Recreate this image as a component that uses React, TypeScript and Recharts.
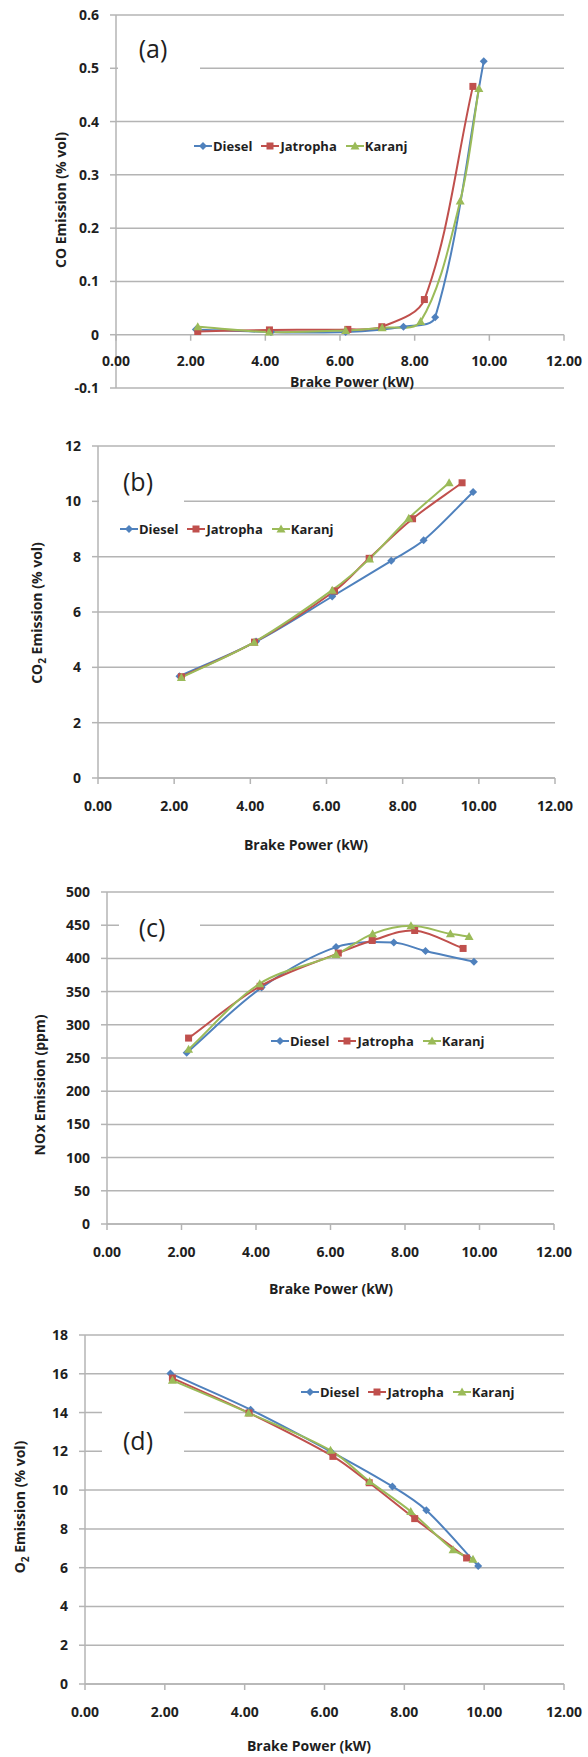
import React from "react";
import { LineChart, Line, XAxis, YAxis, CartesianGrid, Legend, ReferenceLine } from "recharts";

// brake power (kW) at each load step, per fuel
const dieselBP = [2.14, 4.15, 6.15, 7.7, 8.55, 9.85];
const jatrophaBP = [2.19, 4.11, 6.21, 7.12, 8.26, 9.56];
const karanjBP = [2.19, 4.1, 6.15, 7.13, 8.16, 9.22, 9.72];

// (a) CO (% vol)
const coDiesel = [0.01, 0.005, 0.005, 0.015, 0.033, 0.513];
const coJatropha = [0.006, 0.009, 0.01, 0.015, 0.066, 0.466];
const coKaranj = [0.015, 0.005, 0.008, 0.013, 0.025, 0.251, 0.462];

// (b) CO2 (% vol)
const co2Diesel = [3.68, 4.93, 6.56, 7.85, 8.59, 10.34];
const co2Jatropha = [3.66, 4.91, 6.76, 7.94, 9.37, 10.67];
const co2Karanj = [3.63, 4.91, 6.79, 7.92, 9.39, 10.67];

// (c) NOx (ppm)
const noxDiesel = [258, 356, 417, 424, 411, 395];
const noxJatropha = [280, 358, 408, 427, 442, 415];
const noxKaranj = [263, 362, 406, 437, 449, 437, 433];

// (d) O2 (% vol)
const o2Diesel = [16.02, 14.15, 12.0, 10.19, 8.96, 6.09];
const o2Jatropha = [15.78, 13.98, 11.74, 10.38, 8.53, 6.5];
const o2Karanj = [15.66, 13.98, 12.05, 10.45, 8.9, 6.93, 6.43];

const xTicks = [0, 2, 4, 6, 8, 10, 12];
const coTicks = [-0.1, 0, 0.1, 0.2, 0.3, 0.4, 0.5, 0.6];
const co2Ticks = [0, 2, 4, 6, 8, 10, 12];
const noxTicks = [0, 50, 100, 150, 200, 250, 300, 350, 400, 450, 500];
const o2Ticks = [0, 2, 4, 6, 8, 10, 12, 14, 16, 18];

const fuels = ["Diesel", "Jatropha", "Karanj"];
const fuelBP = [dieselBP, jatrophaBP, karanjBP];
const fuelColor = ["#4F81BD", "#C0504D", "#9BBB59"];
const fuelShape = ["diamond", "square", "triangle"];

const FONT = '"Open Sans", "DejaVu Sans", sans-serif';
const GRID = "#B4B4B4";
const INK = "#1F1F1F";

const zip = (xs: number[], ys: number[]) => ys.map((v, i) => ({ bp: xs[i], v }));

// Excel-ish smoothed line: tangents scaled by chord lengths so short
// segments next to long ones don't overshoot
const excelSmooth = (context: any) => {
  let pts: number[][] = [];
  const dist = (a: number[], b: number[]) => Math.hypot(b[0] - a[0], b[1] - a[1]);
  return {
    areaStart() {},
    areaEnd() {},
    lineStart() {
      pts = [];
    },
    point(x: number, y: number) {
      pts.push([+x, +y]);
    },
    lineEnd() {
      const n = pts.length;
      if (!n) return;
      context.moveTo(pts[0][0], pts[0][1]);
      for (let i = 0; i < n - 1; i++) {
        const p0 = pts[Math.max(i - 1, 0)];
        const p1 = pts[i];
        const p2 = pts[i + 1];
        const p3 = pts[Math.min(i + 2, n - 1)];
        const d01 = dist(p0, p1);
        const d12 = dist(p1, p2);
        const d23 = dist(p2, p3);
        const f1 = d01 + d12 > 0 ? d12 / (3 * (d01 + d12)) : 0;
        const f2 = d12 + d23 > 0 ? d12 / (3 * (d12 + d23)) : 0;
        context.bezierCurveTo(
          p1[0] + (p2[0] - p0[0]) * f1,
          p1[1] + (p2[1] - p0[1]) * f1,
          p2[0] - (p3[0] - p1[0]) * f2,
          p2[1] - (p3[1] - p1[1]) * f2,
          p2[0],
          p2[1]
        );
      }
    },
  };
};

function marker(shape: string, cx: number, cy: number, color: string, key?: string) {
  if (shape === "square") {
    return <rect key={key} x={cx - 3.5} y={cy - 3.5} width={7} height={7} fill={color} />;
  }
  if (shape === "triangle") {
    return <path key={key} d={`M${cx},${cy - 4.5}L${cx + 4.5},${cy + 3.5}L${cx - 4.5},${cy + 3.5}Z`} fill={color} />;
  }
  return <path key={key} d={`M${cx},${cy - 4}L${cx + 4},${cy}L${cx},${cy + 4}L${cx - 4},${cy}Z`} fill={color} />;
}

const LegendBox = () => (
  <div style={{ display: "flex", alignItems: "center", gap: 9, fontFamily: FONT, fontWeight: 700, fontSize: 13, color: INK, whiteSpace: "nowrap" }}>
    {fuels.map((name, i) => (
      <span key={name} style={{ display: "flex", alignItems: "center" }}>
        <svg width={18} height={10}>
          <line x1={0} y1={5} x2={18} y2={5} stroke={fuelColor[i]} strokeWidth={2} />
          {marker(fuelShape[i], 9, 5, fuelColor[i])}
        </svg>
        <span style={{ marginLeft: 1 }}>{name}</span>
      </span>
    ))}
  </div>
);

type Panel = {
  tag: string;
  top: number;
  height: number;
  plot: [number, number, number, number]; // left, right, top, bottom
  yDomain: [number, number];
  yTicks: number[];
  series: number[][];
  title: [string, string, string];
  yTitleAt: [number, number];
  xTitleAt: [number, number];
  legendAt: [number, number];
  tagAt: [number, number];
  tagBox: [number, number, number, number]; // left, top, width, height
  xAxisAtZero?: boolean;
};

const panels: Panel[] = [
  {
    tag: "(a)", top: 0, height: 430, plot: [116, 564, 15, 388],
    yDomain: [-0.1, 0.6], yTicks: coTicks, series: [coDiesel, coJatropha, coKaranj],
    title: ["CO Emission (% vol)", "", ""], yTitleAt: [60, 200], xTitleAt: [352, 381],
    legendAt: [194, 146], tagAt: [153, 48], tagBox: [118, 28, 82, 48], xAxisAtZero: true,
  },
  {
    tag: "(b)", top: 420, height: 440, plot: [98, 555, 26, 358],
    yDomain: [0, 12], yTicks: co2Ticks, series: [co2Diesel, co2Jatropha, co2Karanj],
    title: ["CO", "2", " Emission (% vol)"], yTitleAt: [38, 193], xTitleAt: [306, 424],
    legendAt: [120, 109], tagAt: [138, 61], tagBox: [99, 40, 85, 50],
  },
  {
    tag: "(c)", top: 860, height: 440, plot: [107, 554, 32, 364],
    yDomain: [0, 500], yTicks: noxTicks, series: [noxDiesel, noxJatropha, noxKaranj],
    title: ["NOx Emission (ppm)", "", ""], yTitleAt: [39, 225], xTitleAt: [331, 428],
    legendAt: [271, 181], tagAt: [152, 67], tagBox: [119, 45, 81, 45],
  },
  {
    tag: "(d)", top: 1300, height: 457, plot: [85, 564, 35, 384],
    yDomain: [0, 18], yTicks: o2Ticks, series: [o2Diesel, o2Jatropha, o2Karanj],
    title: ["O", "2", " Emission (% vol)"], yTitleAt: [21, 207], xTitleAt: [309, 445],
    legendAt: [301, 92], tagAt: [138, 140], tagBox: [102, 100, 82, 70],
  },
];

const textStyle: React.CSSProperties = { fontFamily: FONT, fontWeight: 700, fontSize: 14, color: INK, whiteSpace: "nowrap", position: "absolute" };

function EmissionPanel({ p }: { p: Panel }) {
  const [pl, pr, pt, pb] = p.plot;
  const yAxisW = 50;
  const xAxisH = 30;
  const tickOff = p.xAxisAtZero ? -30 : 25;
  const yStep = p.yTicks[1] - p.yTicks[0];
  return (
    <div style={{ position: "absolute", left: 0, top: p.top, width: 588, height: p.height }}>
      <LineChart
        width={588}
        height={p.height}
        margin={{ top: pt, right: 588 - pr, bottom: p.height - pb - xAxisH, left: pl - yAxisW }}
      >
        <CartesianGrid vertical={false} stroke={GRID} strokeWidth={1.5} />
        <XAxis
          type="number"
          dataKey="bp"
          domain={[0, 12]}
          ticks={xTicks}
          height={xAxisH}
          allowDataOverflow
          axisLine={p.xAxisAtZero ? false : { stroke: GRID, strokeWidth: 1.5 }}
          tickLine={p.xAxisAtZero ? false : { stroke: GRID, strokeWidth: 1.5 }}
          tickSize={6}
          tick={(t: any) => (
            <text key={`xt-${t.index}`} x={t.x} y={t.y + tickOff} textAnchor="middle" fontFamily={FONT} fontWeight={700} fontSize={14} fill={INK}>
              {Number(t.payload.value).toFixed(2)}
            </text>
          )}
        />
        <YAxis
          type="number"
          domain={p.yDomain}
          ticks={p.yTicks}
          width={yAxisW}
          allowDataOverflow
          axisLine={{ stroke: GRID, strokeWidth: 1.5 }}
          tickLine={{ stroke: GRID, strokeWidth: 1.5 }}
          tickSize={6}
          tickMargin={11}
          tick={{ fontFamily: FONT, fontWeight: 700, fontSize: 14, fill: INK }}
          tickFormatter={(v: number) => String(Math.round(v * 100) / 100)}
        />
        {p.xAxisAtZero &&
          xTicks.map((x) => (
            <ReferenceLine
              key={`xz-${x}`}
              segment={[{ x, y: 0 }, { x, y: -yStep * 0.113 }]}
              stroke={GRID}
              strokeWidth={1.5}
              ifOverflow="visible"
            />
          ))}
        <Legend
          layout="horizontal"
          verticalAlign="middle"
          align="center"
          content={() => <LegendBox />}
          wrapperStyle={{ left: p.legendAt[0], top: p.legendAt[1] - 9, width: "auto", height: "auto" }}
        />
        {fuels.map((name, i) => (
          <Line
            key={name}
            name={name}
            data={zip(fuelBP[i], p.series[i])}
            dataKey="v"
            type={excelSmooth as any}
            stroke={fuelColor[i]}
            strokeWidth={2}
            isAnimationActive={false}
            activeDot={false}
            dot={(d: any) => marker(fuelShape[i], d.cx, d.cy, fuelColor[i], `${name}-${d.index}`)}
          />
        ))}
      </LineChart>
      <div
        style={{
          position: "absolute", left: p.tagBox[0], top: p.tagBox[1], width: p.tagBox[2], height: p.tagBox[3], background: "#fff",
        }}
      />
      <div
        style={{
          ...textStyle, fontWeight: 400, fontSize: 25, left: p.tagAt[0], top: p.tagAt[1], transform: "translate(-50%,-50%)", lineHeight: 1,
        }}
      >
        {p.tag}
      </div>
      <div style={{ ...textStyle, left: p.xTitleAt[0], top: p.xTitleAt[1], transform: "translate(-50%,-50%)" }}>Brake Power (kW)</div>
      <div style={{ ...textStyle, left: p.yTitleAt[0], top: p.yTitleAt[1], transform: "translate(-50%,-50%) rotate(-90deg)" }}>
        {p.title[0]}
        {p.title[1] && <sub style={{ fontSize: 10 }}>{p.title[1]}</sub>}
        {p.title[2]}
      </div>
    </div>
  );
}

export default function App() {
  return (
    <div style={{ position: "absolute", left: 0, top: 0, width: 588, height: 1757, background: "#fff" }}>
      {panels.map((p) => (
        <EmissionPanel key={p.tag} p={p} />
      ))}
    </div>
  );
}
